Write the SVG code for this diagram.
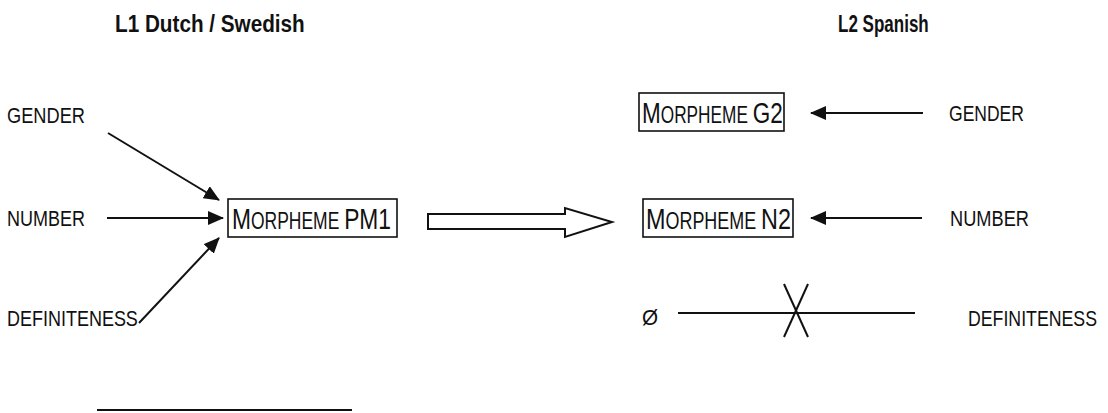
<svg xmlns="http://www.w3.org/2000/svg" width="1108" height="413" viewBox="0 0 1108 413">
<style>
text{font-family:"Liberation Sans",Arial,sans-serif;fill:#111}
.t{font-weight:bold;font-size:23px}
.l{font-size:22px}
.m{font-size:30px}
.sc{font-size:23px}
.box{fill:#fff;stroke:#111;stroke-width:1.6}
.c{stroke:#111;stroke-width:2;fill:none}
</style>
<defs>
<marker id="ah" markerUnits="userSpaceOnUse" markerWidth="16" markerHeight="14" refX="15" refY="7" orient="auto">
<path d="M0,0 L16,7 L0,14 Z" fill="#111"/>
</marker>
</defs>
<g id="titles">
<text class="t" transform="translate(115,32) scale(0.9,1)">L1 Dutch / Swedish</text>
<text class="t" transform="translate(838,32) scale(0.74,1)">L2 Spanish</text>
</g>
<g id="l1-gender"><text class="l" transform="translate(7,123) scale(0.829,1)">GENDER</text></g>
<g id="l1-number"><text class="l" transform="translate(7,226) scale(0.818,1)">NUMBER</text></g>
<g id="l1-definiteness"><text class="l" transform="translate(7,326) scale(0.818,1)">DEFINITENESS</text></g>
<g id="pm1">
<rect class="box" x="228" y="199" width="169" height="38"/>
<text transform="translate(232,229) scale(0.76,1)"><tspan class="m">M</tspan><tspan class="sc">ORPHEME </tspan><tspan class="m">PM1</tspan></text>
</g>
<g id="g2">
<rect class="box" x="639" y="93" width="145" height="38"/>
<text transform="translate(642,123) scale(0.75,1)"><tspan class="m">M</tspan><tspan class="sc">ORPHEME </tspan><tspan class="m">G2</tspan></text>
</g>
<g id="n2">
<rect class="box" x="643" y="199" width="150" height="38"/>
<text transform="translate(646,229) scale(0.78,1)"><tspan class="m">M</tspan><tspan class="sc">ORPHEME </tspan><tspan class="m">N2</tspan></text>
</g>
<g id="l2-gender"><text class="l" transform="translate(949,121) scale(0.797,1)">GENDER</text></g>
<g id="l2-number"><text class="l" transform="translate(950,226) scale(0.829,1)">NUMBER</text></g>
<g id="l2-definiteness"><text class="l" transform="translate(968,326) scale(0.806,1)">DEFINITENESS</text></g>
<g id="null"><text class="l" transform="translate(642,325) scale(0.94,1)">Ø</text></g>
<g id="connectors">
<line class="c" x1="108" y1="133" x2="219" y2="200" marker-end="url(#ah)"/>
<line class="c" x1="107" y1="218" x2="223" y2="218" marker-end="url(#ah)"/>
<line class="c" x1="139" y1="323" x2="219" y2="238" marker-end="url(#ah)"/>
<path d="M428,214 L565,214 L565,208 L612,222 L565,237 L565,229 L428,229 Z" fill="#fff" stroke="#111" stroke-width="2"/>
<line class="c" x1="923" y1="113" x2="811" y2="113" marker-end="url(#ah)"/>
<line class="c" x1="922" y1="218" x2="811" y2="218" marker-end="url(#ah)"/>
<line class="c" x1="678" y1="313" x2="915" y2="313"/>
<line class="c" x1="784" y1="284" x2="808" y2="337"/>
<line class="c" x1="808" y1="284" x2="784" y2="337"/>
<line class="c" x1="97" y1="410" x2="352" y2="410"/>
</g>
</svg>
